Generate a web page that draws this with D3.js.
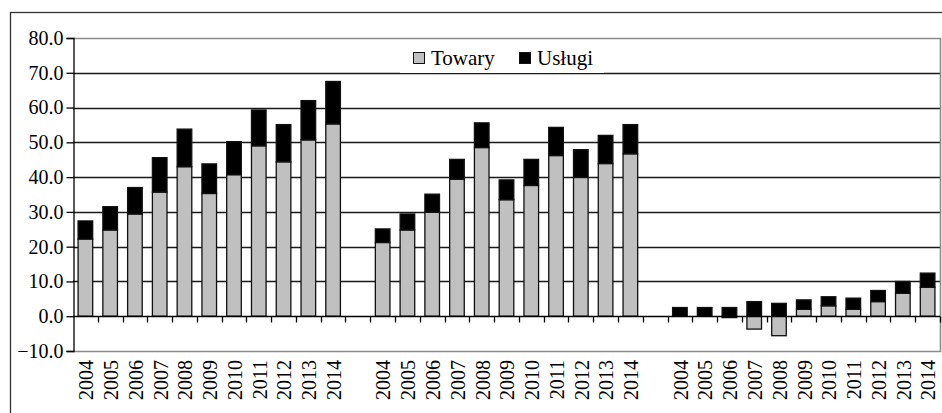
<!DOCTYPE html>
<html>
<head>
<meta charset="utf-8">
<script src="https://cdn.jsdelivr.net/npm/d3@7"></script>
<style>
  html, body { margin: 0; padding: 0; background: #fff; }
  svg { display: block; }
  text { font-family: "Liberation Serif", "Times New Roman", serif; fill: #000; }
</style>
</head>
<body>
<svg id="chart" width="942" height="413"></svg>
<script>
// ---- data ----
const years = ["2004","2005","2006","2007","2008","2009","2010","2011","2012","2013","2014"];
const groupKeys = ["A", "B", "C"];
const towaryA = [22.2, 24.8, 29.4, 35.7, 43.0, 35.3, 40.7, 49.0, 44.4, 50.7, 55.3];
const uslugiA = [5.2, 6.7, 7.6, 9.9, 10.8, 8.5, 9.5, 10.3, 10.7, 11.3, 12.2];
const towaryB = [21.2, 24.8, 29.9, 39.4, 48.5, 33.5, 37.6, 46.2, 39.9, 43.9, 46.7];
const uslugiB = [3.9, 4.6, 5.2, 5.7, 7.1, 5.7, 7.5, 8.1, 8.0, 8.1, 8.4];
const towaryC = [0.0, 0.0, -0.4, -3.7, -5.6, 2.0, 3.0, 2.0, 4.2, 6.6, 8.3];
const uslugiC = [2.5, 2.5, 2.5, 4.2, 3.7, 2.7, 2.6, 3.2, 3.2, 3.4, 4.1];
const yTicks = [-10, 0, 10, 20, 30, 40, 50, 60, 70, 80];
const seriesNames = ["Towary", "Usługi"];
const seriesColors = ["#c0c0c0", "#000000"];

// ---- build rows ----
const towary = [towaryA, towaryB, towaryC];
const uslugi = [uslugiA, uslugiB, uslugiC];
const rows = [];
const domain = [];
groupKeys.forEach((g, gi) => {
  years.forEach((yr, yi) => {
    const key = g + "-" + yr;
    domain.push(key);
    rows.push({ key, year: yr, Towary: towary[gi][yi], "Usługi": uslugi[gi][yi] });
  });
  if (gi < groupKeys.length - 1) domain.push("gap" + gi);
});

// ---- layout ----
const svg = d3.select("#chart");
const pLeft = 73, pRight = 940, pTop = 38, pBottom = 351;

const x = d3.scaleBand().domain(domain).range([pLeft, pRight]).paddingInner(0).paddingOuter(0);
const y = d3.scaleLinear().domain([-10, 80]).range([pBottom, pTop]);
const barW = x.bandwidth() * 0.59;

// outer frame
svg.append("rect")
  .attr("x", 10.5).attr("y", 12.5).attr("width", 940).attr("height", 420)
  .attr("fill", "none").attr("stroke", "#333").attr("stroke-width", 1.3);

// gridlines
svg.append("g").selectAll("line")
  .data(yTicks.filter(t => t > 0 && t < 80))
  .join("line")
  .attr("x1", pLeft).attr("x2", pRight)
  .attr("y1", d => Math.round(y(d)) + 0.5).attr("y2", d => Math.round(y(d)) + 0.5)
  .attr("stroke", "#1a1a1a").attr("stroke-width", 1.3);

// plot border (grey top, right, bottom)
svg.append("path")
  .attr("d", `M${pLeft},${Math.round(y(80)) + 0.5}H${pRight + 0.5}V${Math.round(y(-10)) + 0.5}H${pLeft}`)
  .attr("fill", "none").attr("stroke", "#8a8a8a").attr("stroke-width", 1.6);

// stacked bars
const stack = d3.stack().keys(seriesNames).offset(d3.stackOffsetDiverging);
const stacked = stack(rows);
const barsG = svg.append("g");
stacked.forEach((s, si) => {
  barsG.append("g").selectAll("rect")
    .data(s)
    .join("rect")
    .attr("x", d => x(d.data.key) + (x.bandwidth() - barW) / 2)
    .attr("y", d => y(Math.max(d[0], d[1])))
    .attr("width", barW)
    .attr("height", d => Math.abs(y(d[0]) - y(d[1])))
    .attr("fill", seriesColors[si])
    .attr("stroke", "#111")
    .attr("stroke-width", 1.3);
});

// y axis
const yAxis = d3.axisLeft(y).tickValues(yTicks).tickSize(7).tickPadding(3)
  .tickFormat(d3.format(".1f"));
const yg = svg.append("g").attr("transform", `translate(${pLeft + 0.5},0)`).call(yAxis);
yg.select(".domain").attr("stroke", "#000").attr("stroke-width", 1.3);
yg.selectAll(".tick line").attr("stroke", "#000").attr("stroke-width", 1.3);
yg.selectAll(".tick text")
  .attr("font-size", 20)
  .attr("font-family", "Liberation Serif, Times New Roman, serif")
  .attr("fill", "#000");

// zero axis with tick marks at band boundaries
const zeroY = Math.round(y(0)) + 0.5;
svg.append("line")
  .attr("x1", pLeft).attr("x2", pRight)
  .attr("y1", zeroY).attr("y2", zeroY)
  .attr("stroke", "#000").attr("stroke-width", 1.3);
const boundaries = domain.map(k => x(k)).concat([pRight]);
svg.append("g").selectAll("line")
  .data(boundaries.slice(1))
  .join("line")
  .attr("x1", d => Math.round(d) + 0.5).attr("x2", d => Math.round(d) + 0.5)
  .attr("y1", zeroY).attr("y2", zeroY + 6)
  .attr("stroke", "#000").attr("stroke-width", 1.3);

// x labels (rotated)
svg.append("g").selectAll("text")
  .data(rows)
  .join("text")
  .attr("transform", d => `translate(${x(d.key) + x.bandwidth() / 2 + 1},360) rotate(-90)`)
  .attr("text-anchor", "end")
  .attr("dy", "0.34em")
  .attr("font-size", 20)
  .text(d => d.year);

// legend
const lg = svg.append("g");
lg.append("rect").attr("x", 400).attr("y", 40).attr("width", 204).attr("height", 33).attr("fill", "#fff");
const legendItems = [
  { name: seriesNames[0], color: seriesColors[0], sx: 413, tx: 431 },
  { name: seriesNames[1], color: seriesColors[1], sx: 519, tx: 537 }
];
legendItems.forEach(it => {
  lg.append("rect").attr("x", it.sx + 0.5).attr("y", 52.5).attr("width", 11).attr("height", 11)
    .attr("fill", it.color).attr("stroke", "#111").attr("stroke-width", 1);
  lg.append("text").attr("x", it.tx).attr("y", 65).attr("font-size", 21).text(it.name);
});
</script>
</body>
</html>
